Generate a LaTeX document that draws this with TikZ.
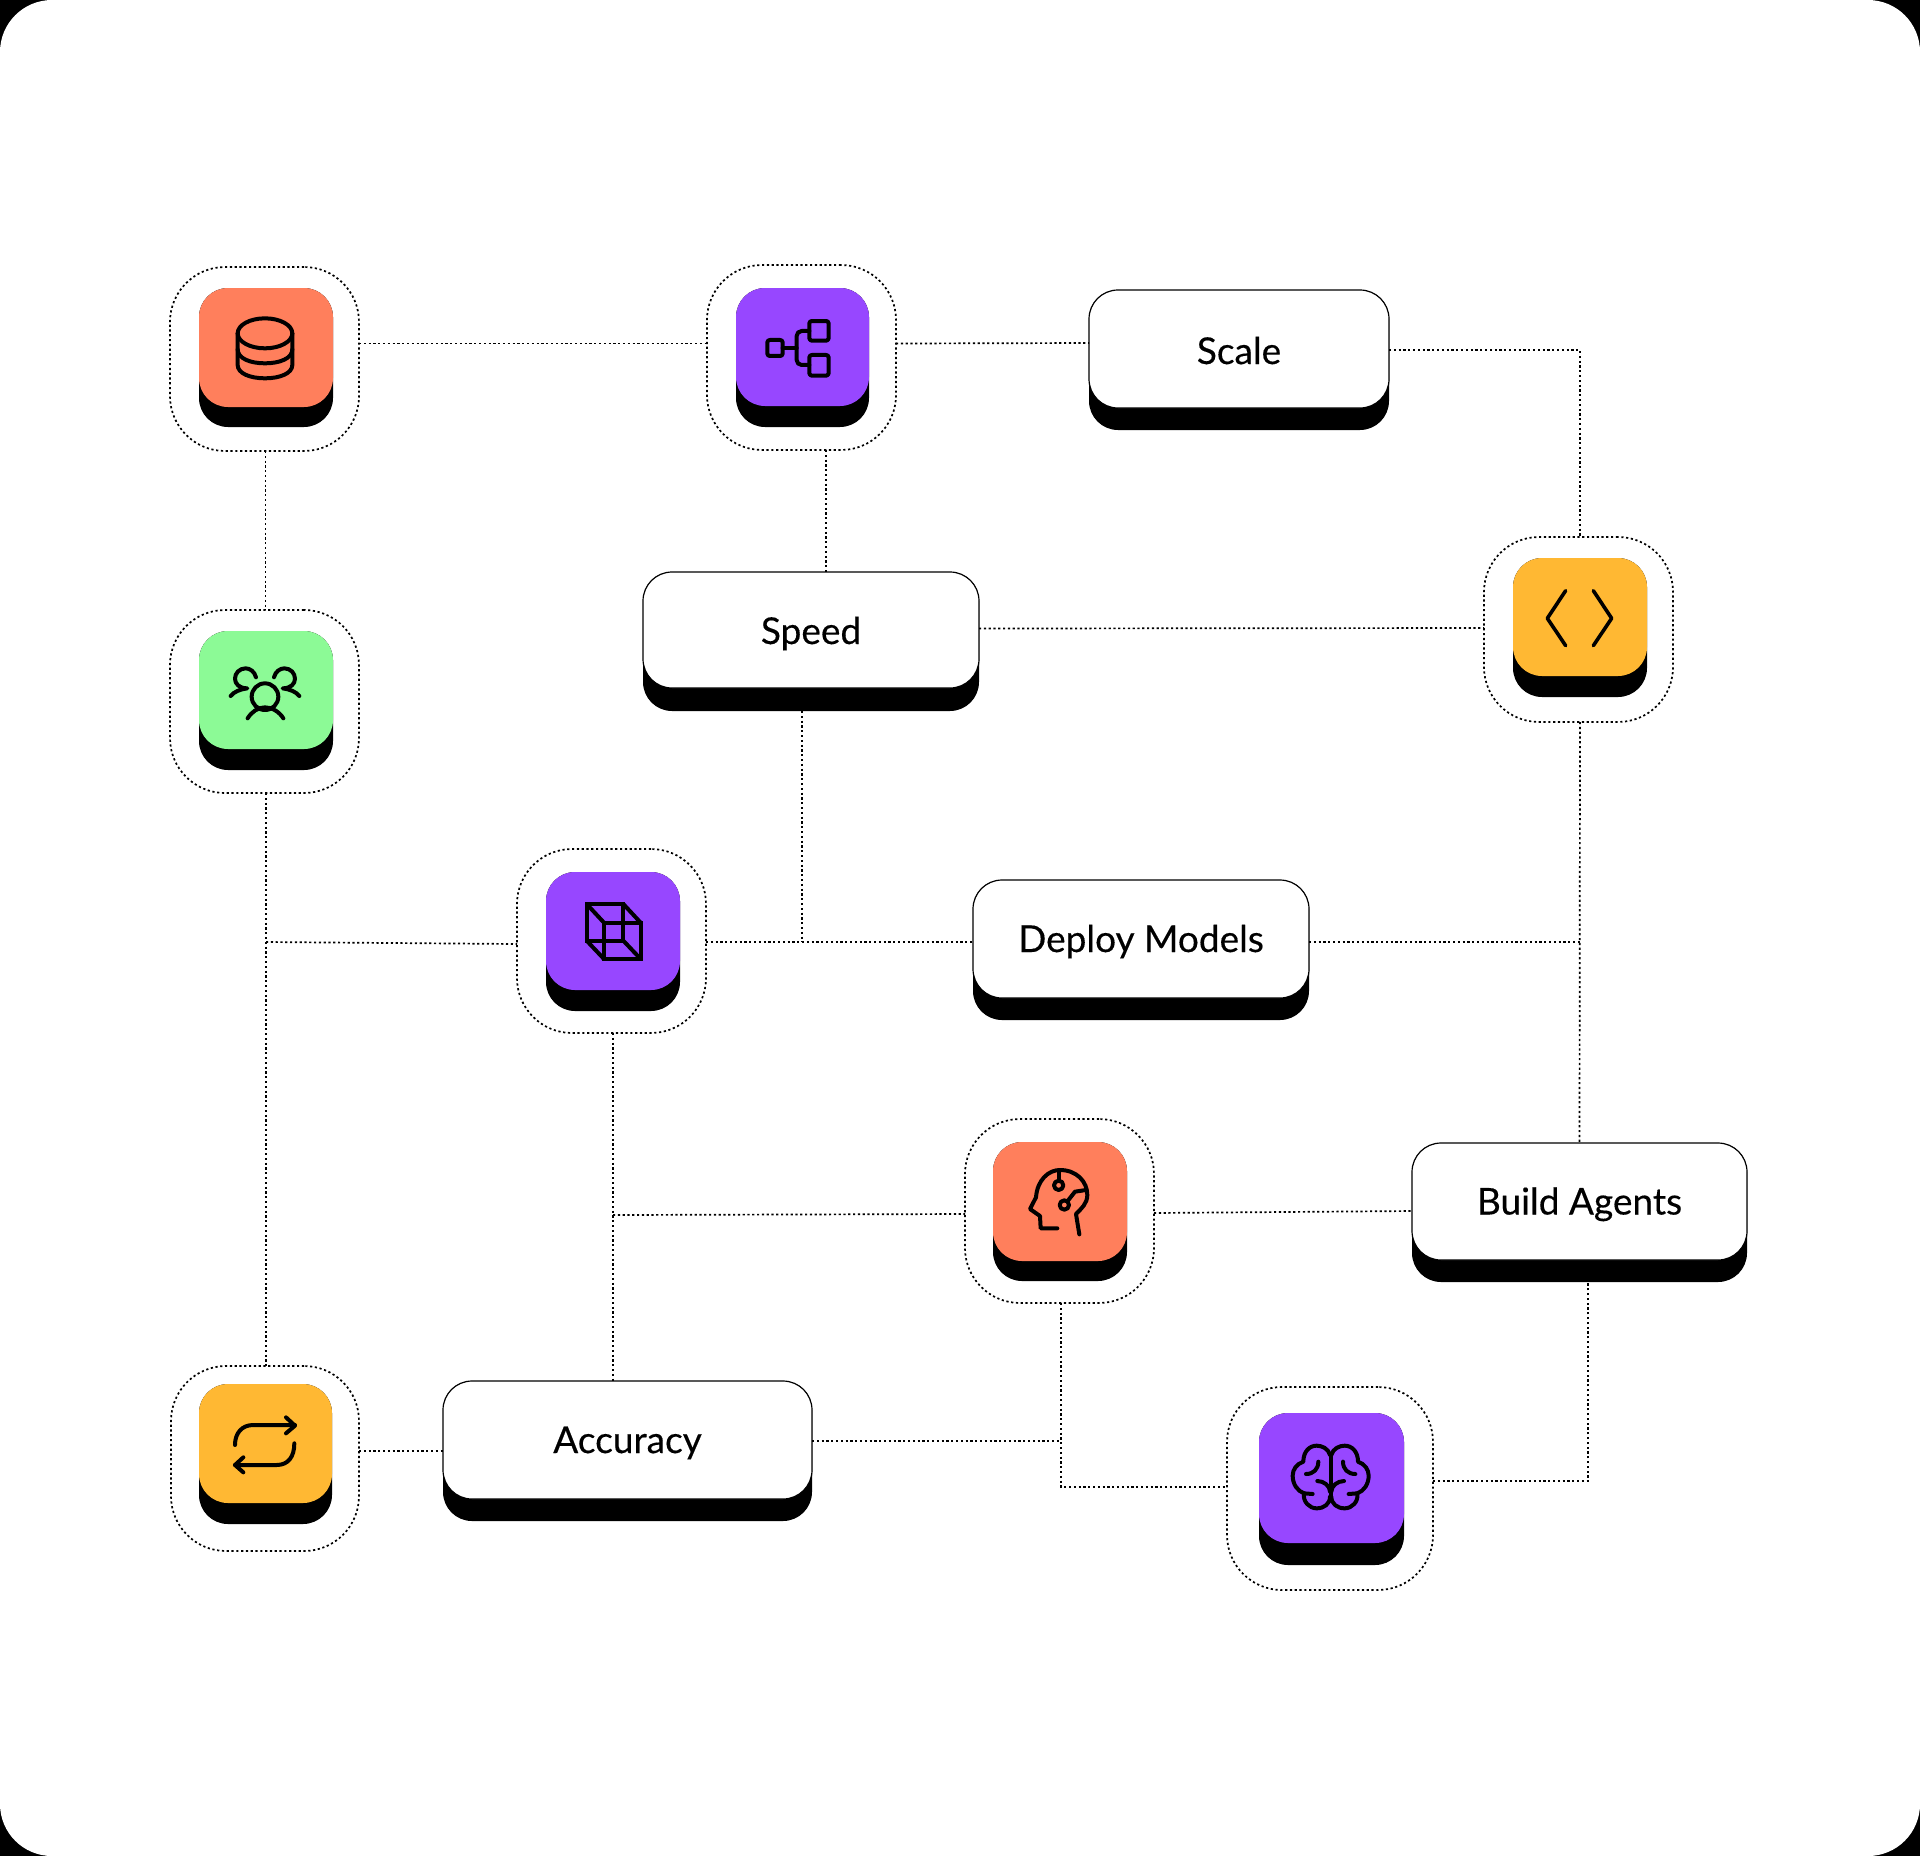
\documentclass[tikz,border=0pt]{standalone}
\usepackage{fontspec}
\setmainfont[FakeBold=0.35]{Lato}
\definecolor{orangeT}{HTML}{FF7F5C}
\definecolor{purpleT}{HTML}{9747FF}
\definecolor{greenT}{HTML}{8CFA96}
\definecolor{yellowT}{HTML}{FFB833}
\tikzset{
  link/.style={line width=1.7pt,black,dash pattern=on 2.2pt off 2.6pt},
  ringbox/.style={draw,line width=1.7pt,black,dash pattern=on 2.2pt off 2.6pt,rounded corners=55pt,inner sep=0pt,outer sep=0pt},
  slab/.style={fill=black,rounded corners=29pt,inner sep=0pt,outer sep=0pt},
  topface/.style={rounded corners=29pt,inner sep=0pt,outer sep=0pt},
  labelface/.style={topface,fill=white,draw=black,line width=1.2pt,text=black,font=\fontsize{37}{37}\selectfont,text height=26pt,text depth=0pt,align=center},
  glyph/.style={line width=4pt,black,line cap=round,line join=round},
}
% name, x1, x2, y1, y2
\newcommand{\ringnode}[5]{%
  \pgfmathsetmacro\boxW{#3-#2}\pgfmathsetmacro\boxH{#5-#4}%
  \node[ringbox,anchor=north west,minimum width=\boxW pt,minimum height=\boxH pt] (#1) at (#2,#4) {};}
% name, x1, x2, y1, y2, y3, colour
\newcommand{\tilenode}[7]{%
  \pgfmathsetmacro\boxW{#3-#2}\pgfmathsetmacro\boxH{#6-#4}\pgfmathsetmacro\boxF{#5-#4}%
  \node[slab,anchor=north west,minimum width=\boxW pt,minimum height=\boxH pt] (#1s) at (#2,#4) {};
  \node[topface,fill=#7,anchor=north west,minimum width=\boxW pt,minimum height=\boxF pt] (#1) at (#2,#4) {};}
% name, x1, x2, y1, y2, y3, text
\newcommand{\labelnode}[7]{%
  \pgfmathsetmacro\boxW{#3-#2}\pgfmathsetmacro\boxH{#6-#4}\pgfmathsetmacro\boxF{#5-#4}%
  \node[slab,anchor=north west,minimum width=\boxW pt,minimum height=\boxH pt] (#1s) at (#2,#4) {};
  \node[labelface,anchor=north west,minimum width=\boxW pt,minimum height=\boxF pt] (#1) at (#2,#4) {#7};}
\newcommand{\brainhalf}{%
  \draw[glyph] (330,225) .. controls (325,205) and (305,197) .. (290,197)
    .. controls (268,197) and (250,215) .. (250,245)
    .. controls (230,252) and (218,268) .. (218,287)
    .. controls (218,312) and (232,333) .. (252,340)
    .. controls (248,365) and (268,385) .. (290,385)
    .. controls (312,385) and (330,372) .. (330,350);
  \draw[glyph] (295,245) .. controls (295,268) and (280,282) .. (258,282);
  \draw[glyph] (292,303) .. controls (312,303) and (330,318) .. (330,335);
  \draw[glyph] (252,340) -- (278,342);}
\begin{document}
\begin{tikzpicture}[x=1pt,y=-1pt]
\useasboundingbox (0,0) rectangle (1920,1856);
\fill[black] (0,0) rectangle (1920,1856);
\fill[white,rounded corners=52pt] (0,0) rectangle (1920,1856);

% rings
\ringnode{dbr}{170}{359}{267}{451}
\ringnode{grr}{707}{896}{265}{450}
\ringnode{per}{170}{359}{610}{793}
\ringnode{cur}{517}{706}{849}{1033}
\ringnode{her}{965}{1154}{1119}{1303}
\ringnode{brr}{1227}{1433}{1387}{1590}
\ringnode{lor}{171}{359}{1366}{1551}
\ringnode{cor}{1484}{1673}{537}{722}

% tiles
\tilenode{db}{199}{333}{288}{407}{427}{orangeT}
\tilenode{gr}{736}{869}{288}{406}{427}{purpleT}
\tilenode{pe}{199}{333}{631}{749}{770}{greenT}
\tilenode{cu}{546}{680}{872}{990}{1011}{purpleT}
\tilenode{he}{993}{1127}{1142}{1261}{1281}{orangeT}
\tilenode{br}{1259}{1404}{1413}{1543}{1565}{purpleT}
\tilenode{lo}{199}{332}{1384}{1503}{1524}{yellowT}
\tilenode{co}{1513}{1647}{558}{676}{697}{yellowT}

% labels
\labelnode{sc}{1089}{1389}{290}{408}{430}{\raisebox{-2pt}{Scale}}
\labelnode{sp}{643}{979}{572}{688}{711}{\raisebox{-1pt}{Speed}}
\labelnode{de}{973}{1309}{880}{998}{1020}{Deploy Models}
\labelnode{ba}{1412}{1747}{1143}{1260}{1282}{Build Agents}
\labelnode{ac}{443}{812}{1381}{1499}{1521}{Accuracy}

% junctions
\coordinate (jL) at (266,942);
\coordinate (jS) at (802,942);
\coordinate (jR) at (1580,942);
\coordinate (jC) at (613,1215);
\coordinate (jH) at (1061,1441);

% connectors
\draw[link] ([yshift=15.5pt]dbr.east) -- ([yshift=14pt]grr.west);
\draw[link] ([yshift=14pt]grr.east) -- ([yshift=6pt]sc.west);
\draw[link] ([yshift=-1pt]sc.east) -| ([xshift=1.5pt]cor.north);
\draw[link] ([xshift=1pt]dbr.south) -- ([xshift=1pt]per.north);
\draw[link] ([xshift=24.5pt]grr.south) -- ([xshift=15pt]sp.north);
\draw[link] ([yshift=1.5pt]sp.east) -- ([yshift=1.5pt]cor.west);
\draw[link] ([xshift=1.5pt]cor.south) -- (ba.north);
\draw[link] ([xshift=-9pt]sps.south) -- (jS);
\draw[link] ([yshift=-1pt]cur.east) -- ([yshift=-3pt]de.west);
\draw[link] ([yshift=-3pt]de.east) -- (jR);
\draw[link] ([xshift=1.5pt]per.south) -- ([xshift=1pt]lor.north);
\draw[link] (jL) -- ([yshift=-3pt]cur.west);
\draw[link] ([xshift=1.5pt]cur.south) -- ([xshift=-14.5pt]ac.north);
\draw[link] (jC) -- ([yshift=-3pt]her.west);
\draw[link] ([yshift=-2pt]her.east) -- ([yshift=-9.5pt]ba.west);
\draw[link] ([xshift=1.5pt]her.south) |- ([yshift=1.5pt]brr.west);
\draw[link] ([yshift=-1pt]ac.east) -- (jH);
\draw[link] ([yshift=7.5pt]brr.east) -| ([xshift=8.5pt]bas.south);
\draw[link] ([yshift=7.5pt]lor.east) -- ([yshift=-11pt]ac.west);

% icons
\begin{scope}[shift={(160,250)},x=0.3333pt,y=-0.3333pt]
  \draw[glyph] (315,250) ellipse [x radius=82,y radius=45];
  \draw[glyph] (233,250) -- (233,345) .. controls (233,370) and (270,385) .. (315,385) .. controls (360,385) and (397,370) .. (397,345) -- (397,250);
  \draw[glyph] (233,298) .. controls (233,325) and (270,340) .. (315,340) .. controls (360,340) and (397,325) .. (397,298);
\end{scope}
\begin{scope}[shift={(700,250)},x=0.3333pt,y=-0.3333pt]
  \draw[glyph,rounded corners=2.5pt] (202,270) rectangle (248,318);
  \draw[glyph,rounded corners=2.5pt] (328,213) rectangle (386,272);
  \draw[glyph,rounded corners=2.5pt] (328,315) rectangle (386,377);
  \draw[glyph] (248,294) -- (290,294);
  \draw[glyph,rounded corners=5pt] (328,243) -- (290,243) -- (290,345) -- (328,345);
\end{scope}
\begin{scope}[shift={(160,600)},x=0.3333pt,y=-0.3333pt]
  \draw[glyph] (315,290) circle [radius=40];
  \draw[glyph] (263,355) .. controls (275,335) and (295,322) .. (315,322) .. controls (335,322) and (358,335) .. (370,355);
  \draw[glyph] (288,232) .. controls (284,215) and (270,205) .. (257,205) .. controls (238,205) and (225,220) .. (225,236) .. controls (225,252) and (238,265) .. (262,265) .. controls (240,268) and (222,275) .. (212,288);
  \draw[glyph] (342,232) .. controls (346,215) and (360,205) .. (373,205) .. controls (392,205) and (405,220) .. (405,236) .. controls (405,252) and (392,265) .. (368,265) .. controls (390,268) and (408,275) .. (418,288);
\end{scope}
\begin{scope}[shift={(510,840)},x=0.3333pt,y=-0.3333pt]
  \draw[glyph,line cap=butt,line join=miter] (230,192) -- (340,192) -- (340,302) -- (230,302) -- cycle;
  \draw[glyph,line cap=butt,line join=miter] (282,248) -- (392,248) -- (392,357) -- (282,357) -- cycle;
  \draw[glyph,line cap=butt] (230,192) -- (282,248) (340,192) -- (392,248) (340,302) -- (392,357) (230,302) -- (282,357);
\end{scope}
\begin{scope}[shift={(950,1110)},x=0.3333pt,y=-0.3333pt]
  \draw[glyph] (322,355) -- (272,355) -- (270,318) -- (240,297) -- (258,262) .. controls (262,210) and (295,180) .. (330,180) .. controls (380,180) and (412,215) .. (412,255) .. controls (412,280) and (395,295) .. (378,312) -- (388,373);
  \draw[glyph] (326,226) circle [radius=14];
  \draw[glyph] (343,285) circle [radius=14];
  \draw[glyph] (326,180) -- (326,212);
  \draw[glyph] (353,273) -- (375,245) -- (408,240);
\end{scope}
\begin{scope}[shift={(1220,1380)},x=0.3333pt,y=-0.3333pt]
  \brainhalf
  \draw[glyph] (332,225) -- (332,350);
\end{scope}
\begin{scope}[shift={(1441.33,1380)},x=-0.3333pt,y=-0.3333pt]
  \brainhalf
\end{scope}
\begin{scope}[shift={(160,1360)},x=0.3333pt,y=-0.3333pt]
  \draw[glyph] (225,255) .. controls (225,220) and (245,195) .. (280,195) -- (405,195);
  \draw[glyph] (378,172) -- (405,197) -- (378,220);
  \draw[glyph] (403,250) .. controls (403,290) and (385,315) .. (350,315) -- (225,315);
  \draw[glyph] (250,292) -- (225,315) -- (250,337);
\end{scope}
\begin{scope}[shift={(1470,530)},x=0.3333pt,y=-0.3333pt]
  \draw[glyph,line width=3.6pt] (287,182) -- (232,265) -- (287,347);
  \draw[glyph,line width=3.6pt] (370,182) -- (425,265) -- (370,347);
\end{scope}
\end{tikzpicture}
\end{document}
